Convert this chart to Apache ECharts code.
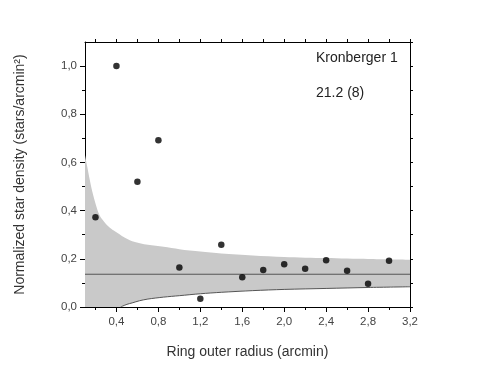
<!DOCTYPE html>
<html><head><meta charset="utf-8">
<script src="https://cdn.jsdelivr.net/npm/echarts@6/dist/echarts.min.js"></script>
<style>html,body{margin:0;padding:0;background:#fff}#c{width:477px;height:369px}</style>
</head><body><div id="c"></div>
<script>
var radius = [0.2,0.4,0.6,0.8,1.0,1.2,1.4,1.6,1.8,2.0,2.2,2.4,2.6,2.8,3.0];
var density = [0.373,1.0,0.52,0.692,0.164,0.034,0.258,0.123,0.154,0.177,0.159,0.194,0.15,0.096,0.192];
var meanDensity = 0.136;
var bandUpperX = [0.1,0.12,0.14,0.17,0.2,0.24,0.3,0.35,0.4,0.46,0.55,0.7,0.85,1.0,1.2,1.4,1.7,2.0,2.4,2.8,3.2];
var bandUpperY = [0.63,0.585,0.54,0.478,0.43,0.38,0.345,0.325,0.31,0.293,0.273,0.258,0.25,0.24,0.23,0.222,0.214,0.208,0.203,0.199,0.196];
var bandLowerX = [0.44,0.46,0.5,0.55,0.62,0.7,0.85,1.0,1.2,1.4,1.7,2.0,2.4,2.8,3.2];
var bandLowerY = [0.0,0.004,0.011,0.017,0.026,0.033,0.041,0.047,0.055,0.061,0.068,0.073,0.077,0.081,0.084];
var xMajorTicks = [0.4,0.8,1.2,1.6,2.0,2.4,2.8,3.2];
var xMinorTicks = [0.2,0.6,1.0,1.4,1.8,2.2,2.6,3.0];
var xAllTicks = [0.2,0.4,0.6,0.8,1.0,1.2,1.4,1.6,1.8,2.0,2.2,2.4,2.6,2.8,3.0,3.2];
var yMajorTicks = [0,0.2,0.4,0.6,0.8,1.0];
var yMinorTicks = [0.1,0.3,0.5,0.7,0.9];
var yAllTicks = [0,0.1,0.2,0.3,0.4,0.5,0.6,0.7,0.8,0.9,1.0,1.1];
var labelTitle = 'Kronberger 1';
var labelValue = '21.2 (8)';

var fmt = function(v){ return v.toFixed(1).replace('.', ','); };
var X0 = 0.1, X1 = 3.2, Y0 = 0, Y1 = 1.1;
var lineStyle = {color:'#000', width:1};
var font = 'Liberation Sans, Arial, sans-serif';

function zip(a,b){ return a.map(function(v,i){return [v,b[i]];}); }

var chart = echarts.init(document.getElementById('c'));
chart.setOption({
  animation:false,
  grid:{left:85, right:67, top:42, bottom:62},
  xAxis:[
    {type:'value', min:X0, max:X1, position:'bottom',
     name:'Ring outer radius (arcmin)', nameLocation:'middle', nameGap:38,
     nameTextStyle:{fontFamily:font, fontSize:14, color:'#333'},
     axisLine:{show:true, onZero:false, lineStyle:lineStyle},
     axisTick:{show:true, inside:false, length:5, customValues:xMajorTicks, lineStyle:lineStyle},
     axisLabel:{show:true, customValues:xMajorTicks, formatter:fmt, fontFamily:font, fontSize:11.5, color:'#444', margin:9},
     splitLine:{show:false}},
    {type:'value', min:X0, max:X1, position:'bottom', axisLine:{show:false, onZero:false},
     axisTick:{show:true, length:3, customValues:xMinorTicks, lineStyle:lineStyle},
     axisLabel:{show:false}, splitLine:{show:false}},
    {type:'value', min:X0, max:X1, position:'top', axisLine:{show:true, onZero:false, lineStyle:lineStyle},
     axisTick:{show:true, length:3, customValues:xAllTicks, lineStyle:lineStyle},
     axisLabel:{show:false}, splitLine:{show:false}}
  ],
  yAxis:[
    {type:'value', min:Y0, max:Y1, position:'left',
     name:'Normalized star density (stars/arcmin²)', nameLocation:'middle', nameGap:58,
     nameTextStyle:{fontFamily:font, fontSize:14, color:'#333'},
     axisLine:{show:true, onZero:false, lineStyle:lineStyle},
     axisTick:{show:true, length:5, customValues:yMajorTicks, lineStyle:lineStyle},
     axisLabel:{show:true, customValues:yMajorTicks, formatter:fmt, fontFamily:font, fontSize:11.5, color:'#444', margin:8},
     splitLine:{show:false}},
    {type:'value', min:Y0, max:Y1, position:'left', axisLine:{show:false, onZero:false},
     axisTick:{show:true, length:3, customValues:yMinorTicks, lineStyle:lineStyle},
     axisLabel:{show:false}, splitLine:{show:false}},
    {type:'value', min:Y0, max:Y1, position:'right', axisLine:{show:true, onZero:false, lineStyle:lineStyle},
     axisTick:{show:true, length:3, customValues:yAllTicks, lineStyle:lineStyle},
     axisLabel:{show:false}, splitLine:{show:false}}
  ],
  series:[
    {type:'line', data:zip(bandUpperX, bandUpperY), smooth:0.3, showSymbol:false, symbol:'none',
     lineStyle:{width:0}, areaStyle:{color:'#c9c9c9', opacity:1, origin:'start'}, z:1, silent:true},
    {type:'line', data:zip(bandLowerX, bandLowerY), smooth:0.3, showSymbol:false, symbol:'none',
     lineStyle:{width:1, color:'#555'}, areaStyle:{color:'#fff', opacity:1, origin:'start'}, z:2, silent:true},
    {type:'line', data:[[X0, meanDensity],[X1, meanDensity]], showSymbol:false, symbol:'none',
     lineStyle:{width:1, color:'#555'}, z:3, silent:true},
    {type:'scatter', data:zip(radius, density), symbol:'circle', symbolSize:6.5,
     itemStyle:{color:'#000'}, z:4}
  ],
  graphic:[
    {type:'text', left:316, top:51, style:{text:labelTitle, font:'14px '+font, fill:'#222'}},
    {type:'text', left:316, top:86, style:{text:labelValue, font:'14px '+font, fill:'#222'}}
  ]
});
</script></body></html>
